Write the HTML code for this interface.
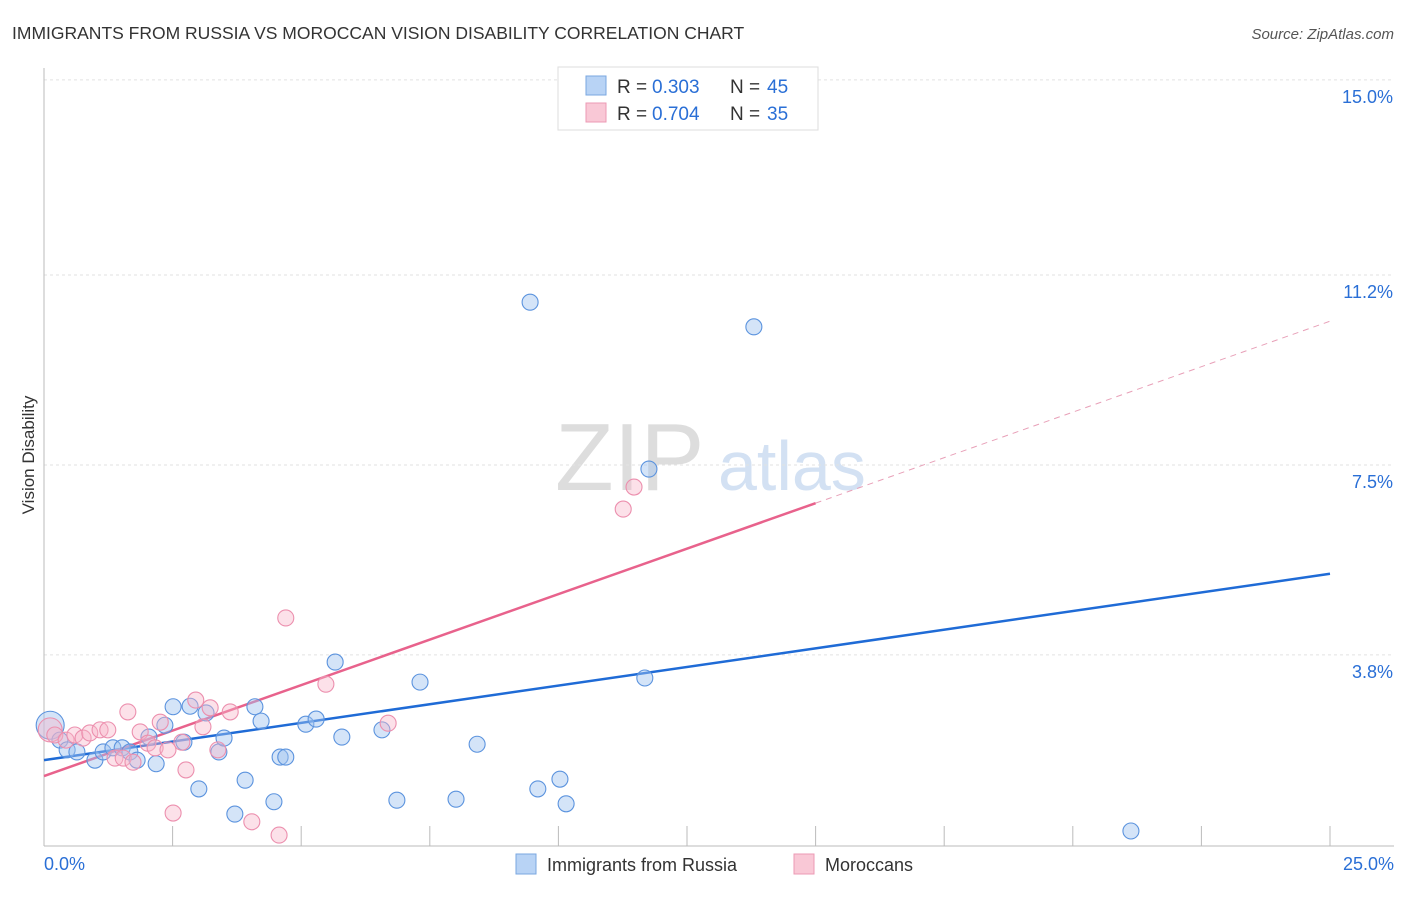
<!DOCTYPE html>
<html><head><meta charset="utf-8"><style>
body{margin:0;background:#fff;font-family:"Liberation Sans",sans-serif;}
svg text{font-family:"Liberation Sans",sans-serif;}
</style></head><body>
<svg id="chart" width="1406" height="892" viewBox="0 0 1406 892">
<text x="12" y="39" font-size="17.5" fill="#333">IMMIGRANTS FROM RUSSIA VS MOROCCAN VISION DISABILITY CORRELATION CHART</text>
<text x="1394" y="39" font-size="15" fill="#555" font-style="italic" text-anchor="end">Source: ZipAtlas.com</text>
<g>
<text x="555" y="490" font-size="96" fill="#ddd" font-family="Liberation Serif">ZIP</text>
<text x="718" y="490" font-size="70" fill="#d3e1f3">atlas</text>
</g>
<g id="grid"></g>
<g id="axes"></g>
<g id="trends"></g>
<g id="points"></g>
<text x="34" y="455" font-size="17" fill="#333" text-anchor="middle" transform="rotate(-90 34 455)">Vision Disability</text>
<g>
<rect x="558" y="67" width="260" height="63" fill="#fff" stroke="#ddd"/>
<rect x="586" y="76" width="20" height="19" fill="#b8d3f5" stroke="#7aa7e0"/>
<rect x="586" y="103" width="20" height="19" fill="#f9c8d6" stroke="#ec9ab4"/>
<text x="617" y="93" font-size="19" fill="#333">R = </text>
<text x="652" y="93" font-size="19" fill="#2a6fd6">0.303</text>
<text x="730" y="93" font-size="19" fill="#333">N = </text>
<text x="767" y="93" font-size="19" fill="#2a6fd6">45</text>
<text x="617" y="120" font-size="19" fill="#333">R = </text>
<text x="652" y="120" font-size="19" fill="#2a6fd6">0.704</text>
<text x="730" y="120" font-size="19" fill="#333">N = </text>
<text x="767" y="120" font-size="19" fill="#2a6fd6">35</text>
</g>
<g>
<rect x="516" y="854" width="20" height="20" fill="#b8d3f5" stroke="#7aa7e0"/>
<text x="547" y="871" font-size="18" fill="#333">Immigrants from Russia</text>
<rect x="794" y="854" width="20" height="20" fill="#f9c8d6" stroke="#ec9ab4"/>
<text x="825" y="871" font-size="18" fill="#333">Moroccans</text>
</g>
</svg>
<script>
const yTicks=[3.8,7.5,11.2,15.0];
const yTickLabels=["3.8%","7.5%","11.2%","15.0%"];
const xTickVals=[0,2.5,5,7.5,10,12.5,15,17.5,20,22.5,25];
const xEndLabels=["0.0%","25.0%"];
const russiaX=[0.12,0.31,0.45,0.64,0.99,1.15,1.34,1.52,1.67,1.81,2.04,2.18,2.35,2.51,2.72,2.84,3.01,3.15,3.40,3.50,3.71,3.91,4.10,4.22,4.47,4.59,4.70,5.09,5.29,5.66,5.79,6.57,6.86,7.31,8.01,8.42,9.45,9.60,10.03,10.15,11.68,11.76,13.80,21.13];
const russiaY=[2.43,2.14,1.95,1.91,1.75,1.91,1.99,1.99,1.91,1.75,2.20,1.68,2.43,2.79,2.10,2.80,1.19,2.67,1.91,2.18,0.70,1.36,2.79,2.51,0.94,1.81,1.81,2.45,2.55,3.66,2.20,2.34,0.97,3.27,0.99,2.06,10.67,1.19,1.38,0.90,3.35,7.42,10.19,0.37];
const morX=[0.12,0.21,0.43,0.60,0.76,0.89,1.09,1.24,1.38,1.54,1.63,1.73,1.87,2.02,2.16,2.26,2.41,2.51,2.68,2.76,2.95,3.09,3.23,3.38,3.62,4.04,4.57,4.70,5.48,6.69,11.26,11.47];
const morY=[2.34,2.24,2.14,2.24,2.18,2.28,2.34,2.34,1.79,1.79,2.69,1.71,2.30,2.08,1.99,2.49,1.95,0.72,2.10,1.56,2.92,2.40,2.77,1.95,2.69,0.55,0.29,4.52,3.23,2.47,6.64,7.07];
const russiaTrend=[1.75,5.38];
const morTrend=[1.44,10.3];
const morSolidEnd=15;
const NS="http://www.w3.org/2000/svg";
const X0=44,X1=1330,Y0=850,PXPER=51.34;
const sx=v=>X0+(v/25)*(X1-X0);
const sy=v=>Y0-v*PXPER;
function mk(tag,attrs,parent){const e=document.createElementNS(NS,tag);for(const k in attrs)e.setAttribute(k,attrs[k]);parent.appendChild(e);return e;}
const grid=document.getElementById('grid'),axes=document.getElementById('axes'),trends=document.getElementById('trends'),pts=document.getElementById('points');
yTicks.forEach((t,i)=>{
 const l=mk('line',{x1:X0,x2:1394,y1:sy(t),y2:sy(t),stroke:'#e2e2e2','stroke-dasharray':'3,3'},grid);
 
 
 const tx=mk('text',{x:1393,y:sy(t)+23,'font-size':18,fill:'#2a6fd6','text-anchor':'end'},grid);
 tx.textContent=yTickLabels[i];
 
 
});
const ya=mk('line',{x1:X0,x2:X0,y1:68,y2:846,stroke:'#bbb'},axes);


const xa=mk('line',{x1:X0,x2:1394,y1:846,y2:846,stroke:'#bbb'},axes);


xTickVals.forEach(v=>{
 const t=mk('line',{x1:sx(v),x2:sx(v),y1:826,y2:846,stroke:'#bbb'},axes);
 
 
});
[[0,'start',X0],[25,'end',1394]].forEach((d,i)=>{
 const t=mk('text',{x:d[2],y:870,'font-size':18,fill:'#2a6fd6','text-anchor':d[1]},axes);
 t.textContent=xEndLabels[i];
 
 
});
const rs=mk('line',{x1:sx(0),y1:sy(russiaTrend[0]),x2:sx(25),y2:sy(russiaTrend[1]),stroke:'#1f6bd6','stroke-width':2.5},trends);


const mAt=v=>morTrend[0]+(morTrend[1]-morTrend[0])*v/25;
const ms=mk('line',{x1:sx(0),y1:sy(mAt(0)),x2:sx(morSolidEnd),y2:sy(mAt(morSolidEnd)),stroke:'#e8628c','stroke-width':2.5},trends);


const md=mk('line',{x1:sx(morSolidEnd),y1:sy(mAt(morSolidEnd)),x2:sx(25),y2:sy(mAt(25)),stroke:'#e8a0b8','stroke-width':1,'stroke-dasharray':'6,5'},trends);


russiaX.forEach((x,i)=>{
 const c=mk('circle',{cx:sx(x),cy:sy(russiaY[i]),r:i===0?14:8,fill:'rgba(160,196,240,0.45)',stroke:'#5b93de','stroke-width':1.1},pts);
 
 
});
morX.forEach((x,i)=>{
 const c=mk('circle',{cx:sx(x),cy:sy(morY[i]),r:i===0?12:8,fill:'rgba(248,180,200,0.4)',stroke:'#ec8fae','stroke-width':1.1},pts);
 
 
});
</script>
</body></html>
